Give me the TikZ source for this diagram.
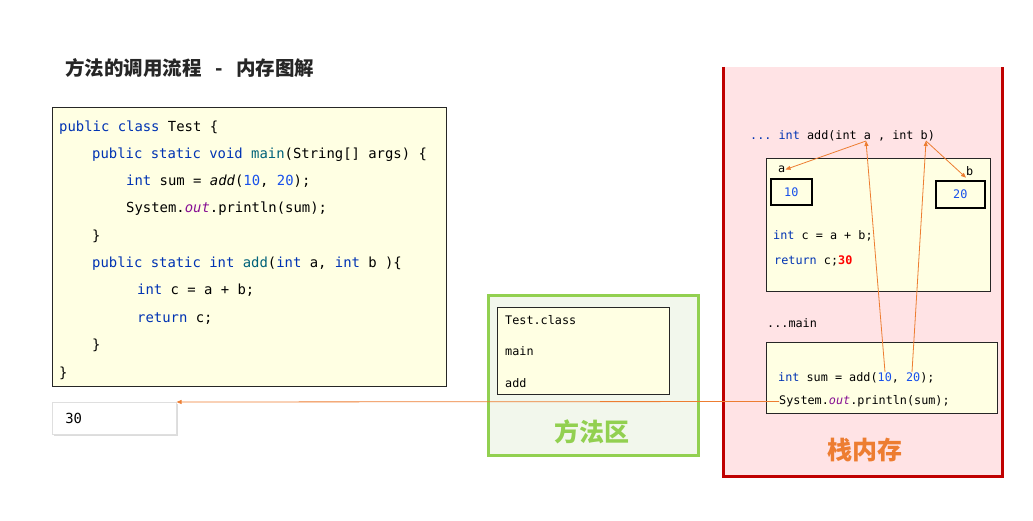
\documentclass[tikz,border=0pt]{standalone}
\usepackage{fontspec}
\setmonofont{DejaVu Sans Mono}
\newfontfamily\cjk{Noto Sans CJK SC}
\usetikzlibrary{arrows.meta, positioning, shadows}
\definecolor{jkey}{HTML}{0033B3}
\definecolor{jnumc}{HTML}{1750EB}
\definecolor{jfld}{HTML}{871094}
\definecolor{jfunc}{HTML}{00627A}
\definecolor{codebg}{HTML}{FFFFE3}
\definecolor{stackbg}{HTML}{FFE3E5}
\definecolor{stackred}{HTML}{C00000}
\definecolor{areabg}{HTML}{F2F7EC}
\definecolor{areagreen}{HTML}{92D050}
\definecolor{callorange}{HTML}{ED7D31}
\definecolor{titlegray}{HTML}{262626}
\newcommand{\jkw}[1]{\textcolor{jkey}{#1}}
\newcommand{\jnum}[1]{\textcolor{jnumc}{#1}}
\newcommand{\jfn}[1]{\textcolor{jfunc}{#1}}
\newcommand{\jout}[1]{\textcolor{jfld}{\itshape #1}}

\begin{document}
\begin{tikzpicture}[
  x=1pt, y=-1pt,
  code/.style={anchor=west, inner sep=0pt, yshift=-3pt,
               font=\ttfamily\fontsize{13.9}{16}\selectfont,
               text height=0.76em, text depth=0.24em},
  mono/.style={anchor=west, inner sep=0pt, yshift=-2.5pt,
               font=\ttfamily\fontsize{11.8}{14}\selectfont,
               text height=0.76em, text depth=0.24em},
  frame/.style={rectangle, draw=black!85, fill=codebg, line width=0.8pt,
                anchor=north west, inner sep=0pt},
  valbox/.style={rectangle, draw=black, line width=1.6pt, anchor=north west,
                 inner sep=0pt, text=jnumc,
                 font=\ttfamily\fontsize{11.8}{14}\selectfont},
  zone/.style={font=\cjk\bfseries\fontsize{25}{28}\selectfont},
  arr/.style={-{Triangle[length=5pt, width=4pt]}, line width=0.8pt,
              color=callorange}
]
  \useasboundingbox (0,0) rectangle (1033,521);

  % title
  \node[anchor=west, inner sep=0pt, text=titlegray,
    font=\cjk\bfseries\fontsize{19.5}{22}\selectfont] (title) at (65,68)
    {方法的调用流程\hspace{0.7em}-\hspace{0.7em}内存图解};

  % source code
  \node[frame, minimum width=394, minimum height=279] (codebox) at (52,107) {};
  \node[code] (l1) at (59,126) {\jkw{public class} Test \{};
  \node[code] (l2) at (92,153) {\jkw{public static void} \jfn{main}(String[] args) \{};
  \node[code] (l3) at (126,180) {\jkw{int} sum = \textit{add}(\jnum{10}, \jnum{20});};
  \node[code] (l4) at (126,207) {System.\jout{out}.println(sum);};
  \node[code] (l5) at (92,235) {\}};
  \node[code] (l6) at (92,262) {\jkw{public static int} \jfn{add}(\jkw{int} a, \jkw{int} b )\{};
  \node[code] (l7) at (137,289) {\jkw{int} c = a + b;};
  \node[code] (l8) at (137,317) {\jkw{return} c;};
  \node[code] (l9) at (92,344) {\}};
  \node[code] (l10) at (59,372) {\}};

  % console output
  \node[rectangle, fill=white, draw=gray!25, line width=0.6pt,
    anchor=north west, minimum height=32,
    inner xsep=13pt, text width=98pt, align=left,
    font=\ttfamily\fontsize{13.9}{16}\selectfont,
    drop shadow={shadow xshift=1.5pt, shadow yshift=-2pt, fill=gray!55}]
    (outbox) at (52,402) {30};

  % method area
  \node[rectangle, draw=areagreen, line width=3pt, fill=areabg,
    anchor=north west, minimum width=210, minimum height=160] (marea) at (487,294) {};
  \node[frame, minimum width=172, minimum height=87] (classbox) at (497,307) {};
  \node[mono] (cls) at (505,319) {Test.class};
  \node[mono] (mmain) at (505,350) {main};
  \node[mono] (madd) at (505,382) {add};
  \node[zone, text=areagreen] (marealbl) at (592,432) {方法区};

  % stack
  \node[rectangle, fill=stackbg, anchor=north west,
    minimum width=279, minimum height=409] (stack) at (723,67) {};
  \draw[stackred, line width=3pt] (stack.north west) -- (stack.south west)
    -- (stack.south east) -- (stack.north east);
  \node[zone, text=callorange] (stacklbl) at (865,450) {栈内存};

  % add frame
  \node[mono] (sig) at (750,134) {\jkw{... int} add(int a , int b)};
  \coordinate (siga) at (866,141);
  \coordinate (sigb) at (926,141);
  \node[frame, minimum width=224, minimum height=133] (addframe) at (766,158) {};
  \node[mono] (lbla) at (778,167) {a};
  \node[mono] (lblb) at (966,170) {b};
  \node[valbox, minimum width=41, minimum height=26] (val10) at (770,178) {10};
  \node[valbox, minimum width=49, minimum height=27] (val20) at (935,180) {20\hspace{10pt}};
  \node[mono] (addc) at (773,234) {\jkw{int} c = a + b;};
  \node[mono] (addret) at (774,259) {\jkw{return} c;\textcolor{red}{\bfseries 30}};

  % main frame
  \node[mono] (mainlbl) at (767,322) {...main};
  \node[frame, minimum width=231, minimum height=71] (mainframe) at (766,342) {};
  \node[mono] (sumln) at (778,376) {\jkw{int} sum = add(\jnum{10}, \jnum{20});};
  \node[mono] (println) at (779,399) {System.\jout{out}.println(sum);};
  \coordinate (arg10) at (885,372);
  \coordinate (arg20) at (912,372);

  % calls
  \draw[arr] (siga) -- (lbla.east);
  \draw[arr] (sigb) -- (lblb.south west);
  \draw[arr] (arg10) -- (siga);
  \draw[arr] (arg20) -- (sigb);
  \draw[arr] (println.west) -- (outbox.north east);
\end{tikzpicture}
\end{document}
